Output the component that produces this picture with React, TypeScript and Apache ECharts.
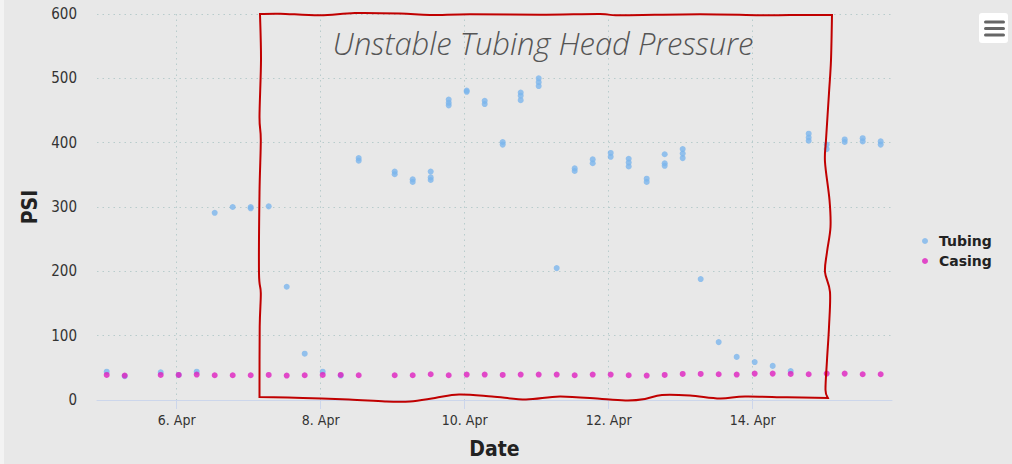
import React, { useEffect, useRef } from "react";
import * as echarts from "echarts";

// ---- data ----
const slotTimes: string[] = [
  "04-05 00:40", "04-05 06:40", "04-05 18:40",
  "04-06 00:40", "04-06 06:40", "04-06 12:40", "04-06 18:40",
  "04-07 00:40", "04-07 06:40", "04-07 12:40", "04-07 18:40",
  "04-08 00:40", "04-08 06:40", "04-08 12:40",
  "04-09 00:40", "04-09 06:40", "04-09 12:40", "04-09 18:40",
  "04-10 00:40", "04-10 06:40", "04-10 12:40", "04-10 18:40",
  "04-11 00:40", "04-11 06:40", "04-11 12:40", "04-11 18:40",
  "04-12 00:40", "04-12 06:40", "04-12 12:40", "04-12 18:40",
  "04-13 00:40", "04-13 06:40", "04-13 12:40", "04-13 18:40",
  "04-14 00:40", "04-14 06:40", "04-14 12:40", "04-14 18:40",
  "04-15 00:40", "04-15 06:40", "04-15 12:40", "04-15 18:40",
];

const tubingPsi: number[][] = [
  [44], [37], [43],
  [39], [44], [291], [300],
  [300, 298], [301], [176], [72],
  [44], [38], [376, 372],
  [355, 351], [343, 339], [355, 346, 342], [467, 462, 458],
  [481, 479], [465, 460], [401, 397], [478, 473, 466],
  [500, 494, 488], [205], [360, 356], [374, 368],
  [384, 378], [375, 369, 363], [344, 339], [382, 368, 364],
  [390, 383, 376], [188], [90], [67],
  [59], [53], [45], [414, 408, 403],
  [397, 390], [405, 401], [407, 402], [402, 397],
];

const casingPsi: number[] = [
  39, 38, 39,
  39, 39.5, 38.5, 38.5,
  38.5, 39, 38, 38.5,
  39, 39, 38.5,
  38.5, 38.5, 40, 38.5,
  39.5, 39.5, 39, 39.5,
  39.5, 39.5, 38.5, 39.5,
  39.5, 38.5, 38, 39,
  40.5, 40.5, 40, 39.5,
  41, 41, 40.5, 40,
  41, 41, 40, 40,
];

const xTickDays: number[] = [6, 8, 10, 12, 14];
const seriesNames: string[] = ["Tubing", "Casing"];
const annotationText = "Unstable Tubing Head Pressure";

// ---- helpers ----
function toDay(s: string): number {
  const [md, hm] = s.split(" ");
  const day = parseInt(md.split("-")[1], 10);
  const [h, m] = hm.split(":").map((v) => parseInt(v, 10));
  return day + (h * 60 + m) / 1440;
}

// decoration: hand-drawn box outline (pixel space)
const boxTop = [[260, 14], [280, 13.7], [320, 15.3], [355, 13], [400, 13.5], [430, 15], [470, 14.2], [540, 14.7], [600, 14], [620, 15.3], [700, 14.2], [760, 15.3], [790, 15], [832, 15]];
const boxRight = [[832, 15], [831, 60], [829, 93], [826, 140], [825, 162], [829.5, 200], [830.5, 227], [827, 252], [825, 272], [830, 292], [829, 327], [827, 360], [825.5, 390], [828, 398]];
const boxBottom = [[828, 398], [787, 397.3], [745, 396.5], [720, 398.5], [690, 395.5], [662, 395], [645, 399], [628, 400.5], [602, 399], [560, 396.5], [526, 399.5], [492, 396.5], [459, 394.5], [435, 398], [410, 401.5], [385, 401.5], [349, 399.5], [303, 398], [259.5, 397]];
const boxLeft = [[259.5, 397], [259.7, 327], [260.8, 293], [259, 273], [259.5, 193], [260.8, 140], [259.5, 117], [261, 60], [260, 14]];

function catmull(pts: number[][], first: boolean): string {
  let d = first ? `M${pts[0][0]} ${pts[0][1]}` : "";
  for (let i = 0; i < pts.length - 1; i++) {
    const p0 = pts[Math.max(0, i - 1)];
    const p1 = pts[i];
    const p2 = pts[i + 1];
    const p3 = pts[Math.min(pts.length - 1, i + 2)];
    const c1x = p1[0] + (p2[0] - p0[0]) / 6;
    const c1y = p1[1] + (p2[1] - p0[1]) / 6;
    const c2x = p2[0] - (p3[0] - p1[0]) / 6;
    const c2y = p2[1] - (p3[1] - p1[1]) / 6;
    d += `C${c1x.toFixed(2)} ${c1y.toFixed(2)} ${c2x.toFixed(2)} ${c2y.toFixed(2)} ${p2[0]} ${p2[1]}`;
  }
  return d;
}

let registered = false;
function registerBox() {
  if (registered) return;
  const d =
    catmull(boxTop, true) + catmull(boxRight, false) + catmull(boxBottom, false) + catmull(boxLeft, false) + "Z";
  echarts.graphic.registerShape("handBox", echarts.graphic.extendPath(d, {}));
  registered = true;
}

export default function App() {
  const ref = useRef<HTMLDivElement>(null);

  useEffect(() => {
    if (!ref.current) return;
    registerBox();
    const chart = echarts.init(ref.current, undefined, { renderer: "svg" });

    const tubingData: number[][] = [];
    slotTimes.forEach((t, i) => {
      tubingPsi[i].forEach((v) => tubingData.push([toDay(t), v]));
    });
    const casingData = slotTimes.map((t, i) => [toDay(t), casingPsi[i]]);

    const gridLine = { color: "#b8cccc", width: 1, type: [1.5, 4] as any };

    chart.setOption({
      animation: false,
      backgroundColor: "#e8e8e8",
      grid: { left: 97, right: 120, top: 14, bottom: 63 },
      legend: {
        orient: "vertical",
        left: 917,
        top: 229,
        itemWidth: 18,
        itemHeight: 6,
        itemGap: 6,
        icon: "circle",
        data: seriesNames,
        textStyle: { fontFamily: "DejaVu Sans", fontWeight: "bold", fontSize: 14, color: "#222" },
      },
      xAxis: {
        type: "value",
        min: 4.893,
        max: 15.935,
        name: "Date",
        nameLocation: "middle",
        nameGap: 38,
        nameTextStyle: { fontFamily: "DejaVu Sans Condensed", fontWeight: "bold", fontSize: 21, color: "#222" },
        axisLine: { show: true, lineStyle: { color: "#ccd6eb", width: 1 } },
        axisTick: { show: true, length: 9, lineStyle: { color: "#ccd6eb" }, customValues: xTickDays },
        axisLabel: {
          customValues: xTickDays,
          formatter: (v: number) => `${v}. Apr`,
          margin: 13,
          fontFamily: "DejaVu Sans Condensed",
          fontSize: 14,
          color: "#333",
        },
        splitLine: { show: true, lineStyle: gridLine },
      },
      yAxis: {
        type: "value",
        min: 0,
        max: 600,
        interval: 100,
        name: "PSI",
        nameLocation: "middle",
        nameGap: 53,
        nameTextStyle: { fontFamily: "DejaVu Sans Condensed", fontWeight: "bold", fontSize: 21, color: "#222" },
        axisLine: { show: false },
        axisTick: { show: false },
        axisLabel: { margin: 20, fontFamily: "DejaVu Sans Condensed", fontSize: 15, color: "#333" },
        splitLine: { show: true, lineStyle: gridLine },
      },
      series: [
        {
          name: seriesNames[0],
          type: "scatter",
          symbol: "circle",
          symbolSize: 6,
          itemStyle: { color: "#7cb5ec" },
          data: tubingData,
        },
        {
          name: seriesNames[1],
          type: "scatter",
          symbol: "circle",
          symbolSize: 6,
          itemStyle: { color: "#df1fbf" },
          data: casingData,
        },
      ],
      graphic: [
        { type: "rect", left: 0, top: 0, shape: { x: 0, y: 0, width: 4, height: 464 }, style: { fill: "#f3f3f3" }, silent: true },
        {
          type: "handBox",
          z: 10,
          x: 0,
          y: 0,
          scaleX: 1,
          scaleY: 1,
          style: { stroke: "#c00000", lineWidth: 2, fill: "none" },
          silent: true,
        },
        {
          type: "text",
          z: 10,
          x: 543,
          y: 43,
          style: {
            text: annotationText,
            align: "center",
            verticalAlign: "middle",
            fontFamily: "Open Sans",
            fontStyle: "italic",
            fontWeight: 300,
            fontSize: 31,
            fill: "#555555",
          },
          silent: true,
        },
        { type: "rect", z: 10, shape: { x: 979, y: 13, width: 29, height: 30, r: 3 }, style: { fill: "#ffffff" } },
        { type: "rect", z: 11, shape: { x: 984, y: 20.5, width: 21, height: 3, r: 1.5 }, style: { fill: "#666666" } },
        { type: "rect", z: 11, shape: { x: 984, y: 27, width: 21, height: 3, r: 1.5 }, style: { fill: "#666666" } },
        { type: "rect", z: 11, shape: { x: 984, y: 33.5, width: 21, height: 3, r: 1.5 }, style: { fill: "#666666" } },
      ],
    });

    return () => chart.dispose();
  }, []);

  return (
    <div
      ref={ref}
      style={{ position: "absolute", left: 0, top: 0, width: 1012, height: 464, background: "#e8e8e8" }}
    />
  );
}
